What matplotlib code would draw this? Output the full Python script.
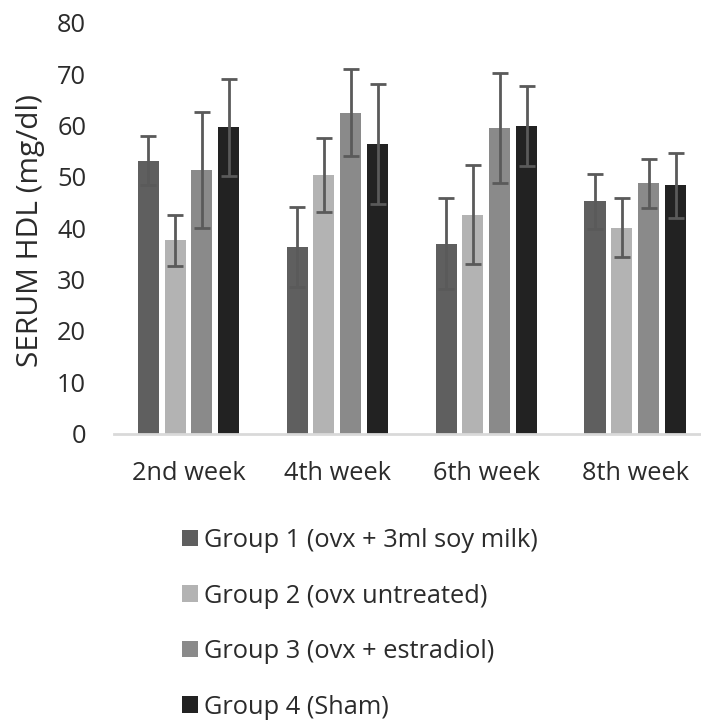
import matplotlib
matplotlib.use('Agg')
import matplotlib.pyplot as plt
import numpy as np
from matplotlib.patches import Patch

plt.rcParams['font.family'] = ['Open Sans', 'DejaVu Sans']

weeks = ['2nd week', '4th week', '6th week', '8th week']
groups = ['Group 1 (ovx + 3ml soy milk)',
          'Group 2 (ovx untreated)',
          'Group 3 (ovx + estradiol)',
          'Group 4 (Sham)']

# mean serum HDL (mg/dl) per group, one value per week
hdl_g1 = [53.1, 36.3, 37.0, 45.2]
hdl_g2 = [37.6, 50.4, 42.6, 40.1]
hdl_g3 = [51.3, 62.5, 59.5, 48.7]
hdl_g4 = [59.6, 56.3, 59.9, 48.3]

# standard deviations
sd_g1 = [4.8, 7.8, 8.8, 5.3]
sd_g2 = [5.0, 7.2, 9.6, 5.7]
sd_g3 = [11.3, 8.4, 10.8, 4.8]
sd_g4 = [9.4, 11.7, 7.8, 6.4]

means = [hdl_g1, hdl_g2, hdl_g3, hdl_g4]
sds = [sd_g1, sd_g2, sd_g3, sd_g4]
colors = ['#5f5f5f', '#b3b3b3', '#8a8a8a', '#222222']
txt = '#2b2b2b'

fig = plt.figure(figsize=(7.01, 7.23), dpi=100)
ax = fig.add_axes([114 / 701, 289.5 / 723, 587 / 701, 410.8 / 723])

x = np.arange(len(weeks))
step = 0.181
width = 0.141
for i in range(4):
    pos = x + (i - 1.5) * step
    ax.bar(pos, means[i], width, color=colors[i], zorder=2)
    ax.errorbar(pos, means[i], yerr=sds[i], fmt='none', ecolor='#5a5a5a',
                elinewidth=2, capsize=6, capthick=2, zorder=3)

ax.set_xlim(-0.5, 3.44)
ax.set_ylim(0, 80)
ax.set_yticks(range(0, 81, 10))
ax.set_xticks(x)
ax.set_xticklabels(weeks)
ax.tick_params(axis='both', length=0, labelsize=18.3, colors=txt)
ax.tick_params(axis='y', pad=20)
ax.tick_params(axis='x', pad=20)

for s in ['top', 'right', 'left']:
    ax.spines[s].set_visible(False)
ax.spines['bottom'].set_color('#d9d9d9')
ax.spines['bottom'].set_linewidth(2)

ax.set_ylabel('SERUM HDL (mg/dl)', fontsize=21.5, color=txt)
ax.yaxis.set_label_coords(-0.118, 0.495)

handles = [Patch(facecolor=c) for c in colors]
fig.legend(handles, groups, loc='upper left', bbox_to_anchor=(172 / 701, 1 - 518 / 723),
           frameon=False, fontsize=18.3, labelcolor=txt,
           handlelength=0.62, handleheight=0.62, handletextpad=0.25,
           labelspacing=1.2, borderaxespad=0)

fig.savefig('out.png', dpi=100)
